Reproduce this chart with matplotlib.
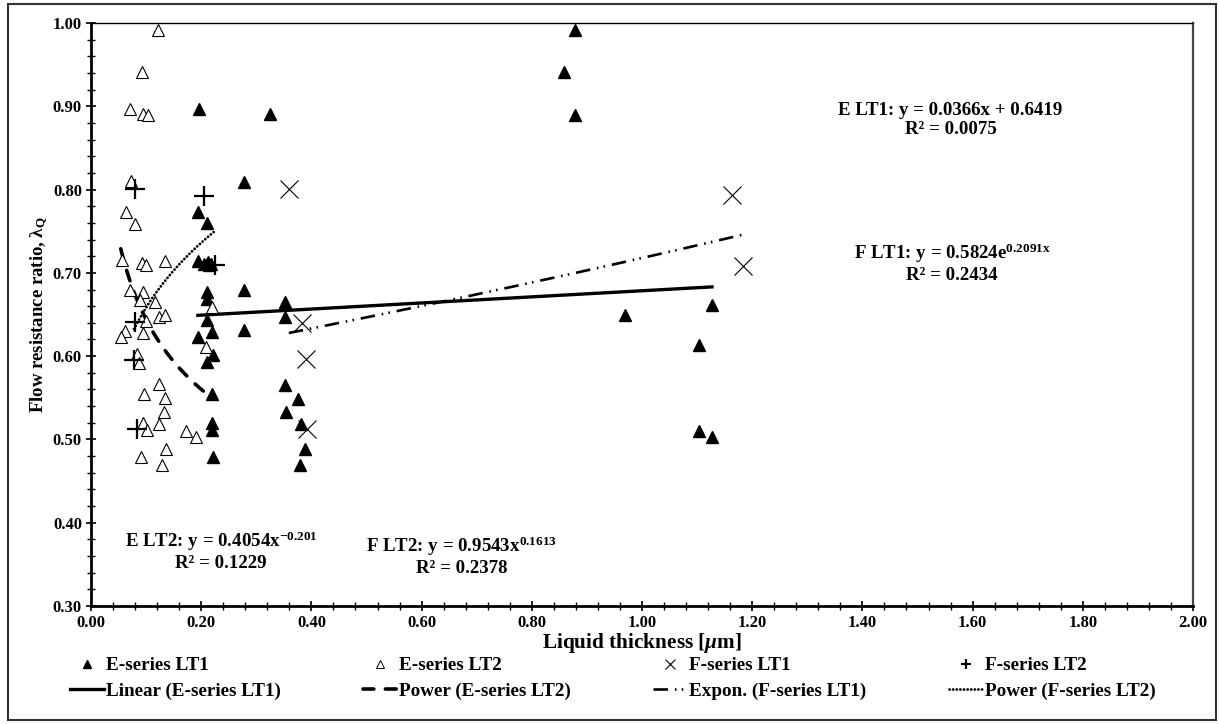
import numpy as np
import matplotlib
matplotlib.use("Agg")
import matplotlib.pyplot as plt
from matplotlib.lines import Line2D
from matplotlib.patches import Rectangle

plt.rcParams['font.family'] = ['Liberation Serif', 'DejaVu Serif']
plt.rcParams['font.weight'] = 'bold'
plt.rcParams['mathtext.fontset'] = 'custom'
plt.rcParams['mathtext.rm'] = 'Liberation Serif:bold'
plt.rcParams['mathtext.it'] = 'Liberation Serif:italic:bold'
plt.rcParams['mathtext.bf'] = 'Liberation Serif:bold'

# E-series LT1 (filled triangles)
e1_x = [0.196, 0.324, 0.277, 0.194, 0.211, 0.195, 0.205, 0.212, 0.215, 0.218,
        0.277, 0.210, 0.210, 0.352, 0.352, 0.210, 0.277, 0.194, 0.219, 0.222,
        0.211, 0.219, 0.352, 0.376, 0.354, 0.382, 0.220, 0.219, 0.388, 0.222,
        0.379, 0.878, 0.859, 0.878, 0.970, 1.127, 1.103, 1.103, 1.127]
e1_y = [0.897, 0.891, 0.809, 0.773, 0.760, 0.714, 0.711, 0.713, 0.709, 0.711,
        0.679, 0.677, 0.669, 0.665, 0.647, 0.643, 0.631, 0.623, 0.629, 0.601,
        0.593, 0.555, 0.565, 0.549, 0.533, 0.519, 0.520, 0.511, 0.489, 0.479,
        0.469, 0.991, 0.941, 0.889, 0.650, 0.661, 0.613, 0.510, 0.503]

# E-series LT2 (open triangles)
e2_x = [0.121, 0.092, 0.071, 0.095, 0.104, 0.072, 0.063, 0.080, 0.057, 0.092,
        0.099, 0.134, 0.071, 0.095, 0.089, 0.116, 0.220, 0.123, 0.134, 0.099,
        0.061, 0.054, 0.095, 0.208, 0.084, 0.088, 0.123, 0.097, 0.134, 0.132,
        0.123, 0.094, 0.102, 0.172, 0.191, 0.137, 0.090, 0.129]
e2_y = [0.991, 0.941, 0.897, 0.891, 0.889, 0.810, 0.773, 0.759, 0.715, 0.712,
        0.710, 0.714, 0.680, 0.677, 0.668, 0.665, 0.659, 0.647, 0.650, 0.642,
        0.630, 0.623, 0.628, 0.611, 0.602, 0.592, 0.566, 0.555, 0.550, 0.533,
        0.519, 0.520, 0.511, 0.510, 0.503, 0.488, 0.479, 0.469]

# F-series LT1 (crosses)
f1_x = [0.359, 0.383, 0.390, 0.392, 1.164, 1.184]
f1_y = [0.801, 0.640, 0.596, 0.512, 0.793, 0.708]

# F-series LT2 (plus)
f2_x = [0.079, 0.205, 0.225, 0.079, 0.078, 0.083]
f2_y = [0.801, 0.792, 0.709, 0.641, 0.595, 0.513]

# trendline coefficients as printed on the chart
e1_lin = [0.0366, 0.6419]
e2_pow = [0.4054, -0.201]
f1_exp = [0.5824, 0.2091]
f2_pow = [0.9543, 0.1613]

fig = plt.figure(figsize=(12.19, 7.24), dpi=100)
ax = fig.add_axes([91 / 1219, 1 - 606 / 724, (1193 - 91) / 1219, (606 - 23) / 724])

# trendlines
xs = np.linspace(min(e1_x), max(e1_x), 50)
ax.plot(xs, e1_lin[0] * xs + e1_lin[1], color='black', lw=2.4, zorder=2)
xs = np.linspace(min(e2_x), max(e2_x), 50)
ax.plot(xs, e2_pow[0] * xs ** e2_pow[1], color='black', lw=2.6,
        ls=(0, (3.0, 3.2)), dash_capstyle='round', zorder=2)
xs = np.linspace(min(f1_x), max(f1_x), 50)
ax.plot(xs, f1_exp[0] * np.exp(f1_exp[1] * xs), color='black', lw=1.9,
        ls=(0, (5.5, 2.6, 0.6, 2.0, 0.6, 2.6)), zorder=2)
xs = np.linspace(min(f2_x), max(f2_x), 50)
ax.plot(xs, f2_pow[0] * xs ** f2_pow[1], color='black', lw=2.0,
        ls=(0, (0.05, 1.25)), dash_capstyle='round', zorder=2)

# points
ax.plot(e1_x, e1_y, ls='none', marker='^', ms=9, color='black', zorder=3)
ax.plot(e2_x, e2_y, ls='none', marker='^', ms=9, mfc='white', mec='black',
        mew=0.8, zorder=3)
ax.plot(f1_x, f1_y, ls='none', marker='x', ms=13, mew=0.8, color='black', zorder=3)
ax.plot(f2_x, f2_y, ls='none', marker='+', ms=15, mew=1.6, color='black', zorder=3)

ax.set_xlim(0, 2.0)
ax.set_ylim(0.30, 1.00)
ax.set_xticks(np.arange(0, 2.01, 0.2))
ax.set_xticks(np.arange(0, 2.01, 0.04), minor=True)
ax.set_yticks(np.arange(0.3, 1.001, 0.1))
ax.set_yticks(np.arange(0.3, 1.001, 0.02), minor=True)
ax.xaxis.set_major_formatter(plt.FormatStrFormatter('%.2f'))
ax.yaxis.set_major_formatter(plt.FormatStrFormatter('%.2f'))
ax.tick_params(which='major', direction='inout', length=7, width=1.2,
               labelsize=12, pad=3)
ax.tick_params(which='minor', direction='inout', length=6, width=1.0)
ax.tick_params(axis='x', pad=3)
for lab in ax.get_xticklabels() + ax.get_yticklabels():
    lab.set_fontweight('bold')

ax.spines['left'].set_linewidth(2)
ax.spines['bottom'].set_linewidth(2)
ax.spines['top'].set_linewidth(1)
ax.spines['right'].set_linewidth(1.6)
ax.spines['right'].set_color('#444444')

ax.set_xlabel(r'Liquid thickness [$\mu$m]', fontsize=15.3, fontweight='bold')
ax.xaxis.set_label_coords(0.5, -0.0435)
ax.set_ylabel(r'Flow resistance ratio, $\mathrm{\lambda}_\mathrm{Q}$', fontsize=13.5,
              fontweight='bold')
ax.yaxis.set_label_coords(-0.037, 0.5)

# trendline equations
txt = dict(ha='center', va='center', fontsize=13.6, fontweight='bold', linespacing=1.15)
ax.text(1.56, 0.884, 'E LT1: y = 0.0366x + 0.6419\nR² = 0.0075', **txt)
ax.text(1.563, 0.712, 'F LT1: y = 0.5824e$^{\\mathbf{0.2091x}}$\nR² = 0.2434', **txt)
ax.text(0.236, 0.366, 'E LT2: y = 0.4054x$^{\\mathbf{-0.201}}$\nR² = 0.1229', **txt)
ax.text(0.672, 0.360, 'F LT2: y = 0.9543x$^{\\mathbf{0.1613}}$\nR² = 0.2378', **txt)

# legend (two rows: markers, trendlines)
handles = [
    Line2D([], [], ls='none', marker='^', ms=6, color='black'),
    Line2D([], [], color='black', lw=2.4),
    Line2D([], [], ls='none', marker='^', ms=6, mfc='white', mec='black', mew=0.7),
    Line2D([], [], color='black', lw=2.6, ls=(0, (3.0, 3.2)), dash_capstyle='round'),
    Line2D([], [], ls='none', marker='x', ms=7, mew=0.8, color='black'),
    Line2D([], [], color='black', lw=1.9, ls=(0, (5.5, 2.6, 0.6, 2.0, 0.6, 2.6))),
    Line2D([], [], ls='none', marker='+', ms=7, mew=1.6, color='black'),
    Line2D([], [], color='black', lw=2.0, ls=(0, (0.05, 1.25)), dash_capstyle='round'),
]
labels = ['E-series LT1', 'Linear (E-series LT1)',
          'E-series LT2', 'Power (E-series LT2)',
          'F-series LT1', 'Expon. (F-series LT1)',
          'F-series LT2', 'Power (F-series LT2)']
fig.legend(handles, labels, ncol=4, loc='upper left',
           bbox_to_anchor=(70 / 1219, 1 - 657 / 724), frameon=False,
           prop={'size': 13.8, 'weight': 'bold'}, handlelength=1.75,
           handletextpad=0.12, columnspacing=4.3, labelspacing=0.4,
           borderaxespad=0, borderpad=0)

# outer chart frame
fig.patches.append(Rectangle((8 / 1219, 4 / 724), 1208 / 1219, 716 / 724,
                             transform=fig.transFigure, fill=False,
                             edgecolor='#333333', lw=1.5))

fig.savefig('out.png', dpi=100)
